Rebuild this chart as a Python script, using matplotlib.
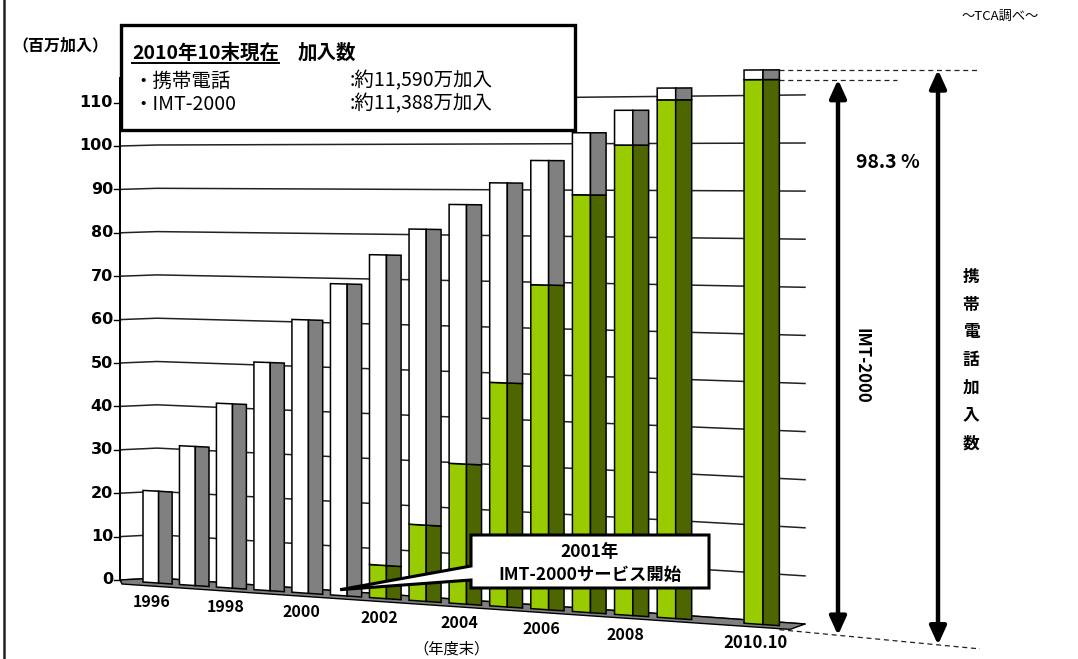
import numpy as np
import matplotlib

matplotlib.use("Agg")
import matplotlib.pyplot as plt
import matplotlib.transforms as mtransforms
from matplotlib.patches import Polygon, Rectangle

plt.rcParams["font.family"] = ["Noto Sans CJK JP", "DejaVu Sans"]

# subscribers, millions, end of fiscal year (last one: end of Oct 2010)
years = ["1996", "1997", "1998", "1999", "2000", "2001", "2002", "2003",
         "2004", "2005", "2006", "2007", "2008", "2009", "2010.10"]
mobile_total = [20.9, 31.5, 41.5, 51.1, 60.9, 69.1, 75.7, 81.5,
                87.0, 91.8, 96.7, 102.7, 107.5, 112.2, 115.9]
imt2000 = [0, 0, 0, 0, 0, 0, 7.3, 16.7,
           30.5, 48.5, 69.9, 89.4, 100.1, 109.7, 113.88]
shown_years = ["1996", "1998", "2000", "2002", "2004", "2006", "2008", "2010.10"]
y_ticks = list(range(0, 111, 10))

WHITE, GRAY = "#ffffff", "#808080"
LIGHT_GREEN, DARK_GREEN = "#99cc00", "#4d6600"


class ChartProjection(mtransforms.Transform):
    """Fake 3D perspective: (category slot, value) -> pixel position."""
    input_dims = 2
    output_dims = 2
    is_separable = False

    def transform_non_affine(self, values):
        values = np.asarray(values, dtype=float).reshape(-1, 2)
        t, v = values[:, 0], values[:, 1]
        x = 143 + 36.2 * t + 0.258 * t ** 2
        base = 582 + 0.0686 * (x - 143)
        unit = 4.44 + 0.00065 * (x - 232)
        return np.column_stack([x, base - unit * v])


# back wall: corners in pixels, with baseline and px-per-unit at each
wall_x = np.array([120, 157, 805])
wall_y0 = np.array([580, 578, 624])
wall_unit = np.array([4.34, 4.33, 4.81])

fig = plt.figure(figsize=(10.78, 6.59), dpi=100)
ax = fig.add_axes([0, 0, 1, 1])
ax.set_autoscale_on(False)
ax.set_xlim(0, 1078)
ax.set_ylim(659, 0)
ax.axis("off")

proj = ChartProjection()
trans = proj + ax.transData

# left frame line
ax.plot([4, 4], [0, 659], color="#222222", lw=1.8)

# wall gridlines and y axis
for v in y_ticks:
    ax.plot(wall_x, wall_y0 - wall_unit * v, color="#222222", lw=1.1, zorder=1)
    ax.plot([114, 120], [wall_y0[0] - wall_unit[0] * v] * 2, color="black", lw=1.0)
    ax.text(113, wall_y0[0] - wall_unit[0] * v, str(v), ha="right", va="center",
            fontsize=11.5, fontweight="bold", family="DejaVu Sans")
ax.plot([120, 120], [wall_y0[0], 78], color="black", lw=1.4, zorder=2)

# floor
back = np.column_stack([wall_x, wall_y0])
front = np.array([[790, 0.0686 * (790 - 143) + 585], [122, 584]])
ax.add_patch(Polygon(np.vstack([back, front]), closed=True, fc=GRAY,
                     ec="black", lw=1.0, zorder=2))

# bars
slots = list(range(len(years) - 1)) + [len(years)]
for t, total, imt in zip(slots, mobile_total, imt2000):
    for t0, t1, light, dark in [(t, t + 0.43, WHITE, LIGHT_GREEN),
                                (t + 0.43, t + 0.8, GRAY, DARK_GREEN)]:
        if imt > 0:
            ax.add_patch(Polygon([(t0, 0), (t1, 0), (t1, imt), (t0, imt)],
                                 closed=True, fc=dark, ec="black", lw=1.1,
                                 transform=trans, zorder=3))
        ax.add_patch(Polygon([(t0, imt), (t1, imt), (t1, total), (t0, total)],
                             closed=True, fc=light, ec="black", lw=1.1,
                             transform=trans, zorder=3))

# category labels
for t, label in zip(slots, years):
    if label in shown_years:
        ax.annotate(label, xy=(t + 0.25, 0), xycoords=trans, xytext=(0, -14),
                    textcoords="offset points", ha="center", va="center",
                    fontsize=11.5 if label != years[-1] else 12,
                    fontweight="bold")
ax.text(451, 649, "（年度末）", ha="center", va="center", fontsize=11)

# unit label and source
ax.text(60, 45, "（百万加入）", ha="center", va="center", fontsize=11.5,
        fontweight="bold")
ax.text(1000, 16, "～TCA調べ～", ha="center", va="center", fontsize=9.5)

# summary box
ax.add_patch(Rectangle((121, 25), 454, 105, fc="white", ec="black", lw=2.4,
                       zorder=6))
title = ax.text(132, 53, "2010年10末現在", ha="left", va="center", fontsize=14,
                fontweight="bold", zorder=7)
ax.text(298, 53, "加入数", ha="left", va="center", fontsize=14,
        fontweight="bold", zorder=7)
ax.text(133, 81, "・携帯電話", ha="left", va="center", fontsize=14, zorder=7)
ax.text(133, 104, "・IMT-2000", ha="left", va="center", fontsize=14, zorder=7)
ax.text(350, 81, ":約11,590万加入", ha="left", va="center", fontsize=14, zorder=7)
ax.text(350, 104, ":約11,388万加入", ha="left", va="center", fontsize=14, zorder=7)

# callout
tip = proj.transform([[slots[5] + 0.25, 1.3]])[0]
callout = [(471, 535), (709, 535), (709, 588), (471, 588), (471, 580),
           tuple(tip), (471, 566)]
ax.add_patch(Polygon(callout, closed=True, fc="white", ec="black", lw=2.2,
                     zorder=6))
ax.text(590, 552, "2001年", ha="center", va="center", fontsize=12.5,
        fontweight="bold", zorder=7)
ax.text(590, 575, "IMT-2000サービス開始", ha="center", va="center",
        fontsize=12.5, fontweight="bold", zorder=7)

# share arrows for the latest bar
last = slots[-1] + 0.8
x_edge, y_total = proj.transform([[last, mobile_total[-1]]])[0]
_, y_imt = proj.transform([[last, imt2000[-1]]])[0]
_, y_base = proj.transform([[last, 0]])[0]
y_base += 4


def bottom_y(x):
    return y_base + 0.096 * (x - x_edge)


dash = dict(color="#222222", lw=0.9, ls=(0, (4, 3)))
ax.plot([x_edge, 980], [y_total, y_total], **dash)
ax.plot([x_edge, 897], [y_imt, y_imt], **dash)
ax.plot([x_edge, 980], [y_base, bottom_y(980)], **dash)

arrow = dict(arrowstyle="<|-|>,head_length=0.55,head_width=0.25", color="black",
             lw=3.2, shrinkA=0, shrinkB=0, mutation_scale=20)
ax.annotate("", xy=(838, y_imt), xytext=(838, bottom_y(838)), arrowprops=arrow)
ax.annotate("", xy=(938, y_total), xytext=(938, bottom_y(938)), arrowprops=arrow)

ax.text(888, 162, "98.3 %", ha="center", va="center", fontsize=14,
        fontweight="bold")
ax.text(862, 366, "IMT-2000", ha="center", va="center", fontsize=12,
        fontweight="bold", rotation=270)
for k, ch in enumerate("携帯電話加入数"):
    ax.text(971, 277 + 27.7 * k, ch, ha="center", va="center", fontsize=12,
            fontweight="bold")

# underline the box title
fig.canvas.draw()
bb = title.get_window_extent()
(ux0, uy), (ux1, _) = ax.transData.inverted().transform([[bb.x0, bb.y0],
                                                         [bb.x1, bb.y0]])
ax.plot([ux0, ux1], [uy, uy], color="black", lw=1.4, zorder=7)

fig.savefig("out.png", dpi=100)
